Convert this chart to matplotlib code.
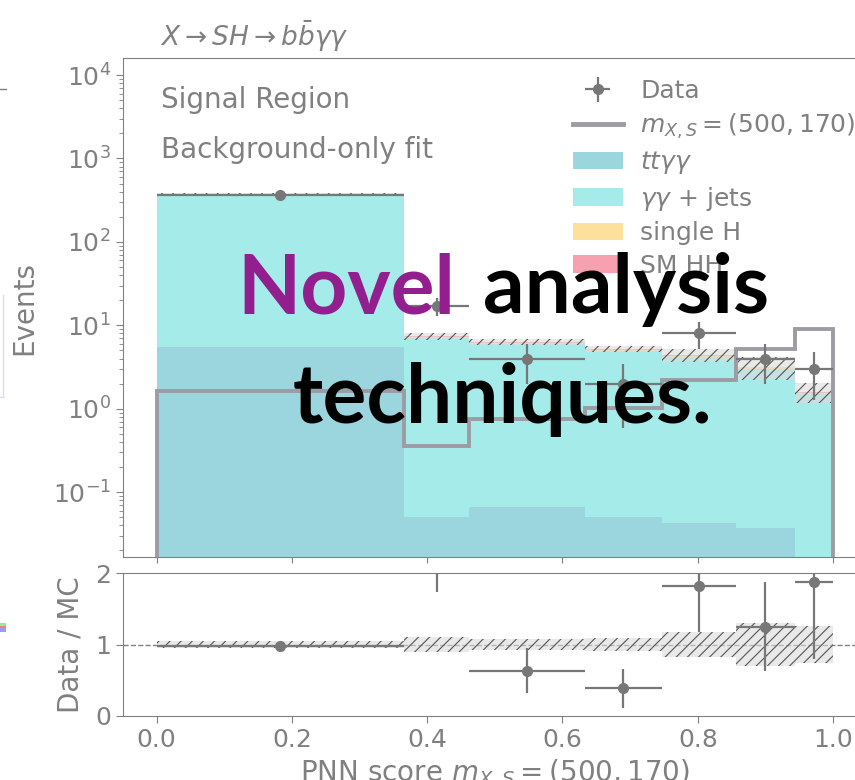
import numpy as np
import matplotlib
matplotlib.use("Agg")
import matplotlib.pyplot as plt
from matplotlib.lines import Line2D
from matplotlib.patches import Rectangle

# PNN score binning and yields in the signal region
edges = [0.0, 0.366, 0.462, 0.633, 0.747, 0.856, 0.944, 1.0]
data = [360, 17, 4, 2, 8, 4, 3]
tt_gg = [5.5, 0.051, 0.067, 0.051, 0.043, 0.0376, 0.0]
single_h = [6.0, 0.2, 0.2, 0.2, 0.13, 0.1, 0.05]
sm_hh = [3.0, 0.12, 0.12, 0.12, 0.1, 0.07, 0.04]
mc_total = [370, 7.4, 6.3, 5.2, 4.4, 3.2, 1.6]
mc_rel_unc = [0.045, 0.10, 0.075, 0.085, 0.175, 0.30, 0.26]
signal = [1.62, 0.355, 0.76, 1.03, 2.24, 5.25, 8.95]

GRAY = "#808080"
COLORS = {"tt": "#9bd6df", "gg": "#a5ebea", "h": "#fce09c", "hh": "#f6a0b0"}
BAND_FACE = (0.86, 0.86, 0.86, 0.6)

plt.rcParams.update({
    "font.size": 18,
    "text.color": GRAY,
    "axes.edgecolor": GRAY,
    "axes.labelcolor": GRAY,
    "xtick.color": GRAY,
    "ytick.color": GRAY,
    "hatch.linewidth": 0.8,
})

edges = np.array(edges)
data = np.array(data, dtype=float)
tt_gg = np.array(tt_gg)
single_h = np.array(single_h)
sm_hh = np.array(sm_hh)
mc_total = np.array(mc_total)
mc_rel_unc = np.array(mc_rel_unc)
gg_jets = mc_total - tt_gg - single_h - sm_hh

centers = 0.5 * (edges[1:] + edges[:-1])
half_w = 0.5 * np.diff(edges)
floor = 1e-5

fig = plt.figure(figsize=(8.55, 7.8), dpi=100)
ax = fig.add_axes([0.1435, 0.2859, 0.8705, 0.6397])
rax = fig.add_axes([0.1435, 0.0824, 0.8705, 0.1826], sharex=ax)

# stacked backgrounds
layers = [(tt_gg, COLORS["tt"], r"$tt\gamma\gamma$"),
          (gg_jets, COLORS["gg"], r"$\gamma\gamma$ + jets"),
          (single_h, COLORS["h"], "single H"),
          (sm_hh, COLORS["hh"], "SM HH")]
bottom = np.full(len(data), floor)
handles = []
for vals, col, lab in layers:
    top = bottom + vals
    ax.stairs(top, edges, baseline=bottom, fill=True, color=col, lw=0)
    handles.append(Rectangle((0, 0), 1, 1, color=col, lw=0, label=lab))
    bottom = top

# MC uncertainty band
ax.bar(edges[:-1], 2 * mc_rel_unc * mc_total, bottom=mc_total * (1 - mc_rel_unc),
       width=np.diff(edges), align="edge", facecolor=BAND_FACE,
       edgecolor="#555555", hatch="///", lw=0, zorder=3)

# signal template
ax.stairs(signal, edges, baseline=floor, color="#9c9ca2", lw=2.8, zorder=4)

# data
ax.errorbar(centers, data, xerr=half_w, yerr=np.sqrt(data), fmt="o",
            color="#777777", ms=7, elinewidth=1.6, capsize=0, zorder=5)

ax.set_yscale("log")
ax.set_ylim(0.0167, 1.6e4)
ax.set_xlim(-0.05, 1.05)
ax.spines["right"].set_visible(False)
ax.tick_params(axis="x", labelbottom=False, direction="out", length=4)
ax.tick_params(axis="y", which="major", direction="out", length=5)
ax.tick_params(axis="y", which="minor", direction="out", length=3)
ax.set_ylabel("Events", fontsize=20)
ax.yaxis.set_label_coords(-0.114, 0.5)

ax.text(0.0515, 0.90, "Signal Region", transform=ax.transAxes, fontsize=20)
ax.text(0.0515, 0.80, "Background-only fit", transform=ax.transAxes, fontsize=20)
ax.text(0.05, 1.025, r"$X \rightarrow SH \rightarrow b\bar{b}\gamma\gamma$",
        transform=ax.transAxes, fontsize=19)

data_leg = ax.errorbar([], [], xerr=[], yerr=[], fmt="o", color="#777777",
                       ms=7, elinewidth=1.6, label="Data")
sig_handle = Line2D([], [], color="#9c9ca2", lw=3.5)
ax.legend([data_leg, sig_handle] + handles,
          ["Data", r"$m_{X,S} = (500, 170)$"] + [h.get_label() for h in handles],
          loc="upper left", bbox_to_anchor=(0.605, 0.958), frameon=False,
          borderaxespad=0, borderpad=0, handletextpad=0.7, labelspacing=0.34,
          fontsize=18, labelcolor=GRAY)

# ratio panel
rel = data / mc_total
rax.bar(edges[:-1], 2 * mc_rel_unc, bottom=1 - mc_rel_unc, width=np.diff(edges),
        align="edge", facecolor=BAND_FACE, edgecolor="#555555",
        hatch="///", lw=0, zorder=2)
rax.axhline(1, ls="--", color=GRAY, lw=1, zorder=1)
rax.errorbar(centers, rel, xerr=half_w, yerr=np.sqrt(data) / mc_total, fmt="o",
             color="#777777", ms=7, elinewidth=1.6, capsize=0, zorder=5)
rax.set_ylim(0, 2)
rax.set_yticks([0, 1, 2])
rax.spines["right"].set_visible(False)
rax.tick_params(direction="out", length=5)
rax.set_xticks([0.0, 0.2, 0.4, 0.6, 0.8, 1.0])
rax.set_ylabel("Data / MC", fontsize=20)
rax.yaxis.set_label_coords(-0.051, 0.5)
rax.set_xlabel(r"PNN score $m_{X,S} = (500, 170)$", fontsize=20, labelpad=4)

# slogan overlay
fig.text(455 / 855, 1 - 313 / 780, "Novel", color="#931f8f", fontsize=59,
         family="Lato", weight="bold", ha="right", va="baseline", zorder=10)
fig.text(483 / 855, 1 - 313 / 780, "analysis", color="black", fontsize=59,
         family="Lato", weight="bold", ha="left", va="baseline", zorder=10)
fig.text(502 / 855, 1 - 423 / 780, "techniques.", color="black", fontsize=59,
         family="Lato", weight="bold", ha="center", va="baseline", zorder=10)

# edge of the neighbouring panel
fig.add_artist(Line2D([0, 6 / 855], [1 - 89 / 780] * 2, color=GRAY, lw=1))
fig.add_artist(Line2D([3.3 / 855] * 2, [1 - 295 / 780, 1 - 397 / 780],
                      color="#d6def4", lw=1))
fig.add_artist(Line2D([0, 3.3 / 855], [1 - 397 / 780] * 2, color="#d6def4", lw=1))
for y0, y1, col in [(623, 626, "#90ee90"), (626, 628, "#f08080"), (628, 632, "#9a9af0")]:
    fig.add_artist(Rectangle((0, 1 - y1 / 780), 6 / 855, (y1 - y0) / 780,
                             color=col, lw=0))

fig.savefig("out.png", dpi=100)
